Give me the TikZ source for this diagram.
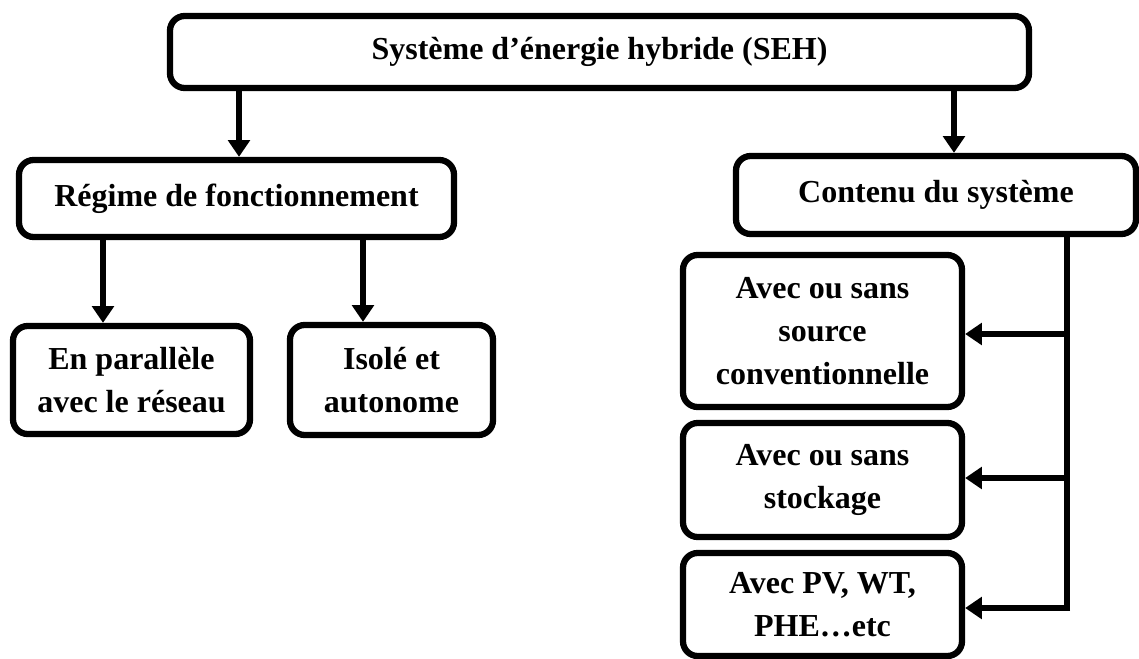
\documentclass[tikz,border=0pt]{standalone}
\usepackage{fontspec}
\setmainfont{Liberation Serif}
\usetikzlibrary{arrows.meta}
\begin{document}
\begin{tikzpicture}[x=0.75pt,y=-0.75pt,
  box/.style={draw, line width=4.7pt, rounded corners=11pt, inner sep=0pt,
    align=center, font=\bfseries\fontsize{24pt}{32pt}\selectfont},
  link/.style={line width=4.7pt},
  arr/.style={line width=4.7pt, -{Triangle[width=16pt,length=12.5pt]}}]
\useasboundingbox (0,0) rectangle (1139,659);

% top level
\node[box, minimum width=859pt*0.75, minimum height=72pt*0.75] (top) at (599.5,52)
  {Système d’énergie hybride (SEH)};

% second level
\node[box, minimum width=435pt*0.75, minimum height=77pt*0.75] (reg) at (236.5,198.5)
  {Régime de fonctionnement};
\node[box, minimum width=400pt*0.75, minimum height=78pt*0.75] (cont) at (936,195)
  {Contenu du système};

% operating modes
\node[box, minimum width=237pt*0.75, minimum height=108pt*0.75] (par) at (131.5,380)
  {En parallèle\\avec le réseau};
\node[box, minimum width=203pt*0.75, minimum height=110pt*0.75] (iso) at (391.5,380)
  {Isolé et\\autonome};

% system contents
\node[box, minimum width=279pt*0.75, minimum height=152pt*0.75] (src) at (822.5,331)
  {Avec ou sans\\source\\conventionnelle};
\node[box, minimum width=279pt*0.75, minimum height=114pt*0.75] (sto) at (822.5,480)
  {Avec ou sans\\stockage};
\node[box, minimum width=279pt*0.75, minimum height=103pt*0.75] (pv) at (822.5,604.5)
  {Avec PV, WT,\\PHE…etc};

% connectors
\draw[arr] (239,0 |- top.south) -- (239,0 |- reg.north);
\draw[arr] (954,0 |- top.south) -- (954,0 |- cont.north);
\draw[arr] (103,0 |- reg.south) -- (103,0 |- par.north);
\draw[arr] (363,0 |- reg.south) -- (363,0 |- iso.north);

\coordinate (j1) at (1067,334);
\coordinate (j2) at (1067,478);
\coordinate (j3) at (1067,608);
\draw[link] (1067,0 |- cont.south) -- ([yshift=-2.35pt]j3);
\draw[arr] (j1) -- (j1 -| src.east);
\draw[arr] (j2) -- (j2 -| sto.east);
\draw[arr] ([xshift=2.35pt]j3) -- (j3 -| pv.east);
\end{tikzpicture}
\end{document}
